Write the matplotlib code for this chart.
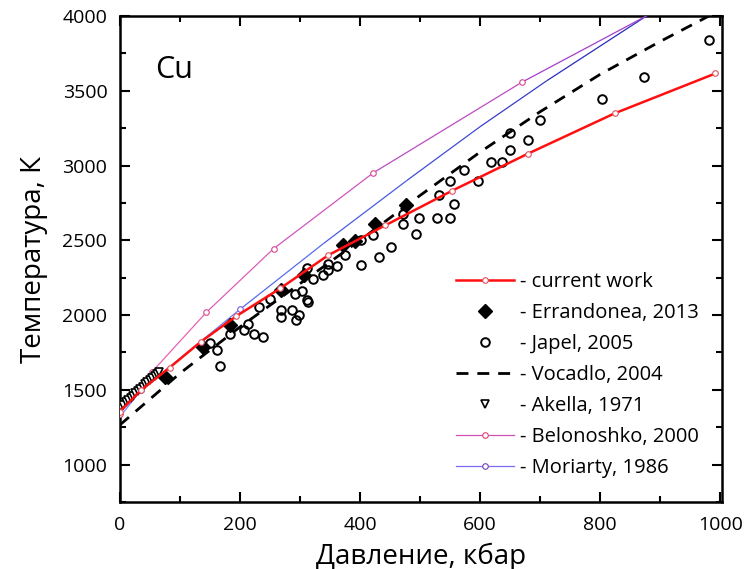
import matplotlib
matplotlib.use("Agg")
import matplotlib.pyplot as plt
import numpy as np
from matplotlib.collections import LineCollection
from matplotlib.colors import LinearSegmentedColormap
from matplotlib.lines import Line2D
from matplotlib.ticker import MultipleLocator

plt.rcParams['font.family'] = ['Open Sans', 'DejaVu Sans']

# current work (melting curve of Cu)
cur_p = [0, 36, 83, 135, 194, 267, 347, 442, 554, 679, 824, 992]
cur_t = [1355, 1500, 1649, 1822, 1993, 2178, 2400, 2600, 2833, 3078, 3349, 3616]

# Errandonea, 2013
err_p = [75, 138, 184, 268, 307, 371, 392, 425, 476]
err_t = [1584, 1789, 1933, 2167, 2267, 2471, 2496, 2611, 2733]

# Japel, 2005
jap_p = [167, 150, 162, 183, 214, 207, 224, 239, 232, 250, 268, 268, 286, 294, 299,
         313, 303, 291, 312, 311, 321, 338, 346, 347, 362, 375, 401, 401, 422, 431,
         452, 471, 471, 494, 499, 528, 550, 557, 531, 550, 574, 596, 619, 636, 650,
         650, 679, 699, 803, 873, 982]
jap_t = [1662, 1811, 1767, 1871, 1940, 1900, 1871, 1851, 2056, 2107, 2033, 1989, 2033, 1967, 2000,
         2089, 2160, 2140, 2100, 2318, 2244, 2267, 2304, 2344, 2331, 2400, 2333, 2500, 2533, 2389,
         2456, 2611, 2673, 2544, 2649, 2649, 2649, 2744, 2804, 2900, 2967, 2896, 3027, 3027, 3104,
         3216, 3173, 3307, 3444, 3593, 3838]

# Vocadlo, 2004
voc_p = [0, 100, 200, 300, 400, 500, 600, 700, 800, 900, 1000]
voc_t = [1265, 1610, 1920, 2210, 2500, 2800, 3090, 3360, 3610, 3830, 4040]

# Akella, 1971
ak_p = [2, 6, 10, 14, 18, 22, 26, 30, 34, 38, 42, 46, 50, 54, 58, 62, 66]
ak_t = [1385, 1400, 1418, 1432, 1447, 1462, 1478, 1492, 1506, 1522, 1536, 1550, 1566, 1580, 1594, 1608, 1620]

# Belonoshko, 2000
bel_p = [0, 54, 144, 256, 422, 669, 900]
bel_t = [1340, 1622, 2018, 2444, 2951, 3556, 4050]

# Moriarty, 1986
mor_p = [0, 36, 200, 339, 478, 600, 711, 900]
mor_t = [1320, 1500, 2038, 2478, 2900, 3260, 3567, 4060]

fig = plt.figure(figsize=(7.49, 5.69), dpi=100)
ax = fig.add_axes([0.160, 0.1178, 0.804, 0.854])


def gradient_line(p, t, cmap, lw, z):
    pts = np.column_stack([p, t])
    segs = np.stack([pts[:-1], pts[1:]], axis=1)
    mid = (np.asarray(p[:-1]) + np.asarray(p[1:])) / 2.0
    lc = LineCollection(segs, cmap=cmap, linewidths=lw, zorder=z)
    lc.set_array(mid)
    lc.set_clim(0, 900)
    ax.add_collection(lc)


mor_cmap = LinearSegmentedColormap.from_list('mor', ['#6f8cff', '#2020b8'])
bel_cmap = LinearSegmentedColormap.from_list('bel', ['#f068b0', '#9a38d0'])

gradient_line(mor_p, mor_t, mor_cmap, 0.9, 3)
ax.plot(mor_p[1:3], mor_t[1:3], 'o', ms=4, mfc='white', mec='#7a58e0', mew=0.8, zorder=3)
gradient_line(bel_p, bel_t, bel_cmap, 0.9, 3)
ax.plot(bel_p, bel_t, 'o', ms=4, mfc='white', mec='#d84890', mew=0.8, zorder=3)

ax.plot(voc_p, voc_t, color='black', lw=2.0, dashes=(4.3, 3.2), zorder=4)
ax.plot(jap_p, jap_t, 'o', ms=6.2, mfc='none', mec='black', mew=1.4, zorder=5)
ax.plot(ak_p, ak_t, 'v', ms=5.5, mfc='white', mec='black', mew=1.2, zorder=5)
ax.plot(err_p, err_t, 'D', ms=7.5, color='black', zorder=6)
ax.plot(cur_p, cur_t, '-', color='#ff1010', lw=1.8, marker='o', ms=4,
        mfc='white', mec='#e05060', mew=0.8, zorder=7)

ax.set_xlim(0, 1003)
ax.set_ylim(750, 4000)
ax.xaxis.set_major_locator(MultipleLocator(200))
ax.xaxis.set_minor_locator(MultipleLocator(100))
ax.yaxis.set_minor_locator(MultipleLocator(250))
ax.set_yticks([1000, 1500, 2000, 2500, 3000, 3500, 4000])

ax.tick_params(which='both', direction='in', top=True, right=True, width=1.5,
               labelsize=14)
ax.tick_params(axis='x', pad=10)
ax.tick_params(axis='y', pad=9)
ax.tick_params(which='major', length=7)
ax.tick_params(which='minor', length=4.5)
for s in ax.spines.values():
    s.set_linewidth(1.8)

ax.set_xlabel('Давление, кбар', fontsize=20, labelpad=6)
ax.set_ylabel('Температура, К', fontsize=20, labelpad=10)

ax.text(0.058, 0.889, 'Cu', transform=ax.transAxes, fontsize=22,
        va='center', ha='left')

legend_handles = [
    Line2D([], [], color='#ff1010', lw=1.8, marker='o', ms=4, mfc='white',
           mec='#e05060', mew=0.8),
    Line2D([], [], ls='none', marker='D', ms=7.5, color='black'),
    Line2D([], [], ls='none', marker='o', ms=6.2, mfc='none', mec='black', mew=1.4),
    Line2D([], [], color='black', lw=2.0, dashes=(4.3, 3.2)),
    Line2D([], [], ls='none', marker='v', ms=5.5, mfc='white', mec='black', mew=1.2),
    Line2D([], [], color='#d050b8', lw=0.9, marker='o', ms=4, mfc='white',
           mec='#e04070', mew=0.8),
    Line2D([], [], color='#7a6cf0', lw=0.9, marker='o', ms=4, mfc='white',
           mec='#7040c0', mew=0.8),
]
legend_labels = ['- current work', '- Errandonea, 2013', '- Japel, 2005',
                 '- Vocadlo, 2004', '- Akella, 1971', '- Belonoshko, 2000',
                 '- Moriarty, 1986']
ax.legend(legend_handles, legend_labels, loc='upper left',
          bbox_to_anchor=(0.558, 0.474), frameon=False, fontsize=14.5,
          handlelength=2.9, handletextpad=0.3, labelspacing=0.55,
          borderpad=0, borderaxespad=0)

fig.savefig('out.png', dpi=100)
